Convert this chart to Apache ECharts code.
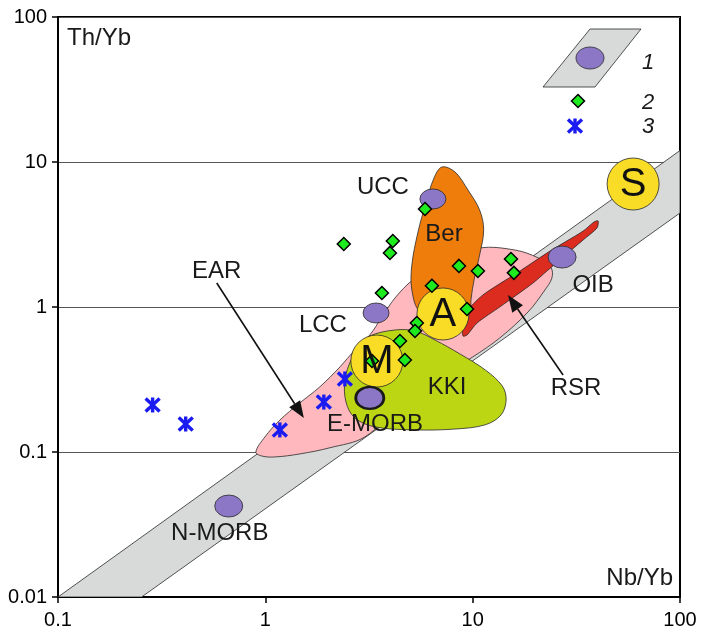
<!DOCTYPE html>
<html>
<head>
<meta charset="utf-8">
<script src="https://cdn.jsdelivr.net/npm/echarts@6/dist/echarts.min.js"></script>
<style>
  html, body { margin: 0; padding: 0; background: #fff; }
  #chart { width: 702px; height: 634px; }
</style>
</head>
<body>
<div id="chart"></div>
<script>
// Th/Yb vs Nb/Yb discrimination diagram (log-log)

const FONT = '"Liberation Sans", Arial, Helvetica, sans-serif';

// axis ticks
const xTickLabels = ['0.1', '1', '10', '100'];
const yTickLabels = ['0.01', '0.1', '1', '10', '100'];

// MORB-OIB mantle array (grey band)
const mantleArray = [[0.1, 0.01], [100, 12], [100, 4.45], [0.253, 0.01]];

// EAR field (pink)
const earField = [[0.900, 0.100], [0.995, 0.127], [1.175, 0.166], [1.467, 0.218], [1.83, 0.281],
  [2.29, 0.386], [2.70, 0.505], [3.19, 0.641], [3.65, 0.853], [4.22, 1.154], [5.15, 1.54],
  [6.95, 2.04], [10.8, 2.55], [16.0, 2.47], [20.7, 2.18], [23.9, 1.86], [24.1, 1.585],
  [22.3, 1.31], [18.5, 0.924], [13.5, 0.611], [10.0, 0.452], [6.95, 0.329], [4.46, 0.211],
  [3.02, 0.127], [2.05, 0.107], [1.467, 0.097], [1.11, 0.0924], [0.962, 0.0938]];

// Ber field (orange)
const berField = [[7.11, 9.24], [8.22, 8.53], [9.49, 6.41], [10.8, 4.67], [11.3, 3.40], [10.8, 2.28],
  [10.2, 1.59], [9.81, 1.12], [9.70, 0.840], [7.35, 0.788], [5.57, 0.924], [5.09, 1.31],
  [5.09, 1.95], [5.45, 3.29], [5.95, 5.22], [6.51, 7.76]];

// RSR field (red)
const rsrField = [[9.18, 0.909], [11.2, 1.21], [16.4, 1.72], [23.6, 2.43], [34.1, 3.34], [38.5, 3.86],
  [40.3, 3.92], [39.8, 3.51], [34.1, 2.90], [27.0, 2.18], [22.8, 1.77], [19.5, 1.46],
  [13.5, 1.0], [10.5, 0.776], [9.39, 0.641], [8.98, 0.631], [8.88, 0.814]];

// KKI field (yellow-green)
const kkiField = [[3.19, 0.631], [4.22, 0.694], [5.27, 0.683], [6.58, 0.592], [8.69, 0.474],
  [11.5, 0.368], [13.9, 0.285], [14.5, 0.228], [13.7, 0.180], [11.5, 0.154], [8.22, 0.144],
  [5.27, 0.142], [3.38, 0.149], [2.70, 0.172], [2.45, 0.221], [2.42, 0.314], [2.59, 0.431],
  [2.86, 0.538]];

// end-member components (yellow circles)
const endNames = ['S', 'A', 'M'];
const endNb = [59.4, 7.19, 3.45];
const endTh = [7.05, 0.895, 0.424];

// reference compositions (purple ellipses)
const refNames = ['UCC', 'LCC', 'E-MORB', 'OIB', 'N-MORB'];
const refNb = [6.43, 3.42, 3.19, 27.0, 0.666];
const refTh = [5.56, 0.909, 0.236, 2.21, 0.0424];

// group 2 samples (green diamonds)
const sampleNb = [2.39, 4.12, 3.99, 3.65, 5.89, 8.59, 10.6, 6.36, 9.39, 15.3, 15.8, 5.38, 5.27, 4.46, 4.71, 3.27];
const sampleTh = [2.72, 2.85, 2.36, 1.25, 4.74, 1.92, 1.77, 1.40, 0.969, 2.14, 1.72, 0.776, 0.683, 0.583, 0.431, 0.424];

// group 3 samples (blue asterisks)
const xenoNb = [0.286, 0.413, 1.175, 1.915, 2.419];
const xenoTh = [0.211, 0.156, 0.142, 0.221, 0.319];

// field / reference labels
const labelNames = ['UCC', 'Ber', 'EAR', 'LCC', 'OIB', 'RSR', 'KKI', 'E-MORB', 'N-MORB'];
const labelNb = [3.69, 7.27, 0.583, 1.895, 38.1, 31.5, 7.52, 3.38, 0.603];
const labelTh = [6.73, 3.19, 1.77, 0.751, 1.42, 0.276, 0.281, 0.156, 0.0276];

// pointer arrows: [fromNb, fromTh, toNb, toTh]
const arrowEAR = [0.583, 1.464, 1.534, 0.1716];
const arrowRSR = [27.3, 0.34, 14.8, 1.21];

const C = {
  grey: '#D8D9D9', pink: '#FFB9BE', orange: '#EF7D0B', red: '#DC2B1F', kki: '#BDD613',
  yellow: '#F8DC26', purple: '#8C77C6', green: '#1EEB1E', blue: '#1A1AF2', edge: '#2a2a2a'
};

function fieldSeries(name, pts, fill, z, smooth) {
  return {
    type: 'custom', name, coordinateSystem: 'cartesian2d', z, silent: true, clip: true,
    data: [[1, 1]],
    renderItem: (params, api) => ({
      type: 'polygon',
      shape: { points: pts.map(p => api.coord(p)), smooth: smooth },
      style: { fill: fill, stroke: C.edge, lineWidth: 0.8 }
    })
  };
}

function arrowItem(api, a) {
  const p0 = api.coord([a[0], a[1]]);
  const p1 = api.coord([a[2], a[3]]);
  const dx = p1[0] - p0[0], dy = p1[1] - p0[1];
  const len = Math.hypot(dx, dy);
  const ux = dx / len, uy = dy / len;
  const hl = 17, hw = 6.5;
  const bx = p1[0] - ux * hl, by = p1[1] - uy * hl;
  return [
    { type: 'line', shape: { x1: p0[0], y1: p0[1], x2: bx, y2: by }, style: { stroke: '#111', lineWidth: 1.6 } },
    { type: 'polygon', shape: { points: [[p1[0], p1[1]], [bx - uy * hw, by + ux * hw], [bx + uy * hw, by - ux * hw]] },
      style: { fill: '#111' } }
  ];
}

function starShape(cx, cy) {
  const s = { stroke: C.blue, lineWidth: 3.4, lineCap: 'butt' };
  return [
    { type: 'line', shape: { x1: cx - 7, y1: cy - 6.5, x2: cx + 7, y2: cy + 6.5 }, style: s },
    { type: 'line', shape: { x1: cx + 7, y1: cy - 6.5, x2: cx - 7, y2: cy + 6.5 }, style: s },
    { type: 'line', shape: { x1: cx, y1: cy - 7.5, x2: cx, y2: cy + 7.5 }, style: s }
  ];
}

const chart = echarts.init(document.getElementById('chart'), null, { renderer: 'canvas' });

const axisCommon = {
  type: 'log', logBase: 10,
  axisLine: { show: true, onZero: false, lineStyle: { color: '#000', width: 2 } },
  axisTick: { show: true, length: 6, lineStyle: { color: '#000', width: 1.5 } },
  minorTick: { show: false },
  axisLabel: { color: '#000', fontSize: 20, fontFamily: FONT }
};

chart.setOption({
  animation: false,
  backgroundColor: '#fff',
  grid: { left: 58, right: 22, top: 17, bottom: 37, show: true, borderColor: '#000', borderWidth: 2, backgroundColor: 'transparent' },
  xAxis: Object.assign({}, axisCommon, {
    min: 0.1, max: 100,
    splitLine: { show: false },
    axisLabel: Object.assign({}, axisCommon.axisLabel, {
      margin: 13,
      formatter: v => xTickLabels[Math.round(Math.log10(v)) + 1]
    })
  }),
  yAxis: Object.assign({}, axisCommon, {
    min: 0.01, max: 100,
    splitLine: { show: true, lineStyle: { color: '#555', width: 1.2 } },
    axisLabel: Object.assign({}, axisCommon.axisLabel, {
      margin: 11,
      formatter: v => yTickLabels[Math.round(Math.log10(v)) + 2]
    })
  }),
  series: [
    fieldSeries('mantle array', mantleArray, C.grey, 1, 0),
    fieldSeries('EAR', earField, C.pink, 2, 0.35),
    fieldSeries('Ber', berField, C.orange, 3, 0.35),
    fieldSeries('RSR', rsrField, C.red, 4, 0.25),
    fieldSeries('KKI', kkiField, C.kki, 5, 0.35),
    {
      type: 'scatter', name: 'end-members', z: 6, silent: true,
      symbol: 'circle', symbolSize: 52,
      itemStyle: { color: C.yellow, borderColor: C.edge, borderWidth: 0.8, opacity: 1 },
      data: endNb.map((v, i) => [v, endTh[i]])
    },
    {
      type: 'scatter', name: 'reference', z: 7, silent: true,
      symbol: 'circle',
      data: refNb.map((v, i) => ({
        value: [v, refTh[i]],
        symbolSize: refNames[i] === 'UCC' || refNames[i] === 'LCC' ? [26, 20] : [28, 22],
        itemStyle: {
          color: C.purple, opacity: 1,
          borderColor: refNames[i] === 'E-MORB' ? '#1a1a1a' : C.edge,
          borderWidth: refNames[i] === 'E-MORB' ? 2.6 : 0.8
        }
      }))
    },
    {
      type: 'scatter', name: '2', z: 8, silent: true,
      symbol: 'diamond', symbolSize: 13,
      itemStyle: { color: C.green, borderColor: '#000', borderWidth: 1.5, opacity: 1 },
      data: sampleNb.map((v, i) => [v, sampleTh[i]])
    },
    {
      type: 'custom', name: '3', z: 9, silent: true, coordinateSystem: 'cartesian2d',
      data: xenoNb.map((v, i) => [v, xenoTh[i]]),
      renderItem: (params, api) => {
        const c = api.coord([api.value(0), api.value(1)]);
        return { type: 'group', children: starShape(c[0], c[1]) };
      }
    },
    {
      type: 'custom', name: 'labels', z: 10, silent: true, coordinateSystem: 'cartesian2d',
      data: labelNb.map((v, i) => [v, labelTh[i], i]),
      renderItem: (params, api) => {
        const c = api.coord([api.value(0), api.value(1)]);
        return {
          type: 'text', x: c[0], y: c[1],
          style: { text: labelNames[api.value(2)], font: '24px ' + FONT, fill: '#1a1a1a', align: 'center', verticalAlign: 'middle' }
        };
      }
    },
    {
      type: 'custom', name: 'end-member letters', z: 11, silent: true, coordinateSystem: 'cartesian2d',
      data: endNb.map((v, i) => [v, endTh[i], i]),
      renderItem: (params, api) => {
        const c = api.coord([api.value(0), api.value(1)]);
        return {
          type: 'text', x: c[0], y: c[1] + 1,
          style: { text: endNames[api.value(2)], font: '40px ' + FONT, fill: '#111', align: 'center', verticalAlign: 'middle' }
        };
      }
    },
    {
      type: 'custom', name: 'arrows', z: 12, silent: true, coordinateSystem: 'cartesian2d',
      data: [[1, 1]],
      renderItem: (params, api) => ({
        type: 'group', children: arrowItem(api, arrowEAR).concat(arrowItem(api, arrowRSR))
      })
    }
  ],
  graphic: [
    { type: 'text', x: 67, y: 38, z: 20, style: { text: 'Th/Yb', font: '24px ' + FONT, fill: '#1a1a1a', align: 'left', verticalAlign: 'middle' } },
    { type: 'text', x: 673, y: 578, z: 20, style: { text: 'Nb/Yb', font: '24px ' + FONT, fill: '#1a1a1a', align: 'right', verticalAlign: 'middle' } },
    // key
    { type: 'polygon', z: 20, shape: { points: [[590, 29], [641, 29], [595, 87], [543, 87]] }, style: { fill: C.grey, stroke: C.edge, lineWidth: 0.8 } },
    { type: 'ellipse', z: 21, shape: { cx: 590, cy: 58, rx: 14, ry: 11 }, style: { fill: C.purple, stroke: C.edge, lineWidth: 0.8 } },
    { type: 'polygon', z: 21, shape: { points: [[578, 94.5], [584.5, 101], [578, 107.5], [571.5, 101]] }, style: { fill: C.green, stroke: '#000', lineWidth: 1.5 } },
    { type: 'group', z: 21, children: starShape(575, 126) },
    { type: 'text', x: 648, y: 63, z: 21, style: { text: '1', font: 'italic 22px ' + FONT, fill: '#1a1a1a', align: 'center', verticalAlign: 'middle' } },
    { type: 'text', x: 648, y: 103, z: 21, style: { text: '2', font: 'italic 22px ' + FONT, fill: '#1a1a1a', align: 'center', verticalAlign: 'middle' } },
    { type: 'text', x: 648, y: 127, z: 21, style: { text: '3', font: 'italic 22px ' + FONT, fill: '#1a1a1a', align: 'center', verticalAlign: 'middle' } }
  ]
});
</script>
</body>
</html>
